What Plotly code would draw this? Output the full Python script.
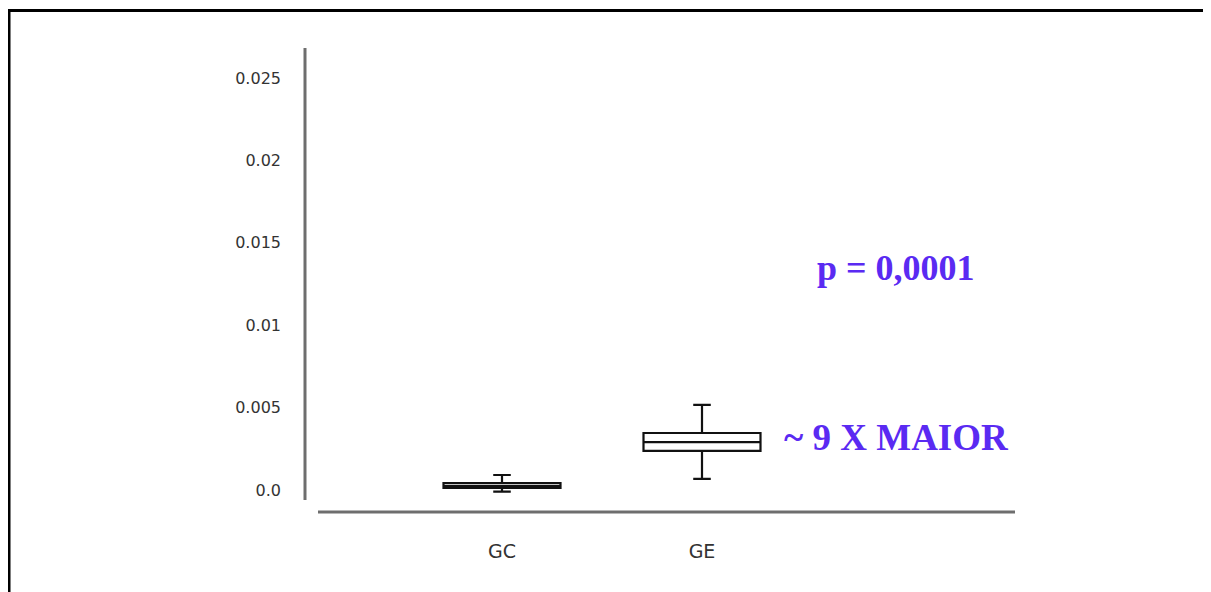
import plotly.graph_objects as go

# ---- data ----
groups = ["GC", "GE"]
q1 = [0.00012, 0.00237]
median = [0.00024, 0.00291]
q3 = [0.00042, 0.00346]
lower_fence = [-0.0001, 0.00067]
upper_fence = [0.00091, 0.00516]

y_tick_vals = [0.0, 0.005, 0.01, 0.015, 0.02, 0.025]
y_tick_text = ["0.0", "0.005", "0.01", "0.015", "0.02", "0.025"]

p_text = "<b>p = 0,0001</b>"
ratio_text = "<b>~ 9 X MAIOR</b>"

# ---- figure ----
OFF = 8  # page body margin
W, H = 1211 - OFF, 592 - OFF
L, R, T, B = 305 - OFF, 1015 - OFF, 48 - OFF, 512 - OFF

fig = go.Figure()
fig.add_trace(go.Box(
    x=groups, q1=q1, median=median, q3=q3,
    lowerfence=lower_fence, upperfence=upper_fence,
    fillcolor="white",
    line=dict(color="#111111", width=2.2),
    whiskerwidth=0.15,
    boxpoints=False,
    showlegend=False,
    hoverinfo="skip",
))

y_top = 0.02682
y_bot = -0.001335

def px_x(p):
    return (p - OFF - L) / (R - L)

def px_y(p):
    return (B - (p - OFF)) / (B - T)

shapes = [
    dict(type="line", xref="paper", yref="y", x0=0, x1=0,
         y0=-0.0006, y1=y_top, line=dict(color="#6e6e6e", width=3)),
    dict(type="line", xref="paper", yref="paper", x0=px_x(318), x1=1,
         y0=0, y1=0, line=dict(color="#6e6e6e", width=3)),
    dict(type="line", xref="paper", yref="paper", x0=px_x(9), x1=px_x(9),
         y0=px_y(10.5), y1=px_y(600), line=dict(color="black", width=3)),
    dict(type="line", xref="paper", yref="paper", x0=px_x(7.5), x1=px_x(1220),
         y0=px_y(10.5), y1=px_y(10.5), line=dict(color="black", width=3)),
]

annotations = [
    dict(text=p_text, xref="paper", yref="paper", x=px_x(896), y=px_y(268),
         xanchor="center", yanchor="middle", showarrow=False,
         font=dict(family="Liberation Serif", size=36, color="#5a2af2")),
    dict(text=ratio_text, xref="paper", yref="paper", x=px_x(896), y=px_y(438),
         xanchor="center", yanchor="middle", showarrow=False,
         font=dict(family="Liberation Serif", size=37, color="#5a2af2")),
]

fig.update_layout(
    width=W, height=H,
    margin=dict(l=L, r=W - R, t=T, b=H - B, pad=0),
    paper_bgcolor="white", plot_bgcolor="white",
    boxgap=0.415, boxgroupgap=0,
    shapes=shapes,
    annotations=annotations,
    xaxis=dict(
        type="category", range=[-0.985, 2.565],
        showgrid=False, zeroline=False, showline=False, ticks="",
        ticklabelstandoff=26,
        tickfont=dict(family="DejaVu Sans", size=19, color="#333333"),
    ),
    yaxis=dict(
        range=[y_bot, y_top],
        tickvals=y_tick_vals, ticktext=y_tick_text,
        showgrid=False, zeroline=False, showline=False, ticks="",
        ticklabelstandoff=23,
        tickfont=dict(family="DejaVu Sans", size=16, color="#333333"),
    ),
)

fig.write_html("out.html")
